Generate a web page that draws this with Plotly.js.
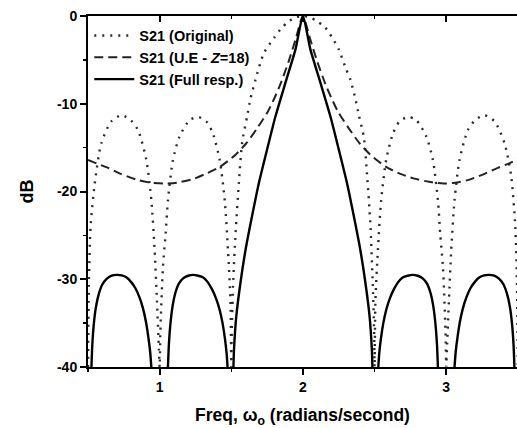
<!DOCTYPE html>
<html><head><meta charset="utf-8">
<script src="https://cdn.plot.ly/plotly-3.0.1.min.js"></script>
<style>html,body{margin:0;padding:0;background:#fff}#chart{width:517px;height:428px}</style>
</head><body><div id="chart"></div>
<script>
// S21 (Original) - dotted
const origX = [0.5,0.507,0.518,0.547,0.593,0.663,0.735,0.80,0.849,0.907,0.942,0.965,0.981,0.995,1.0,
  1.005,1.023,1.042,1.058,1.093,1.14,1.21,1.27,1.33,1.372,1.419,1.454,1.477,1.494,1.5,
  1.503,1.514,1.53,1.553,1.576,1.611,1.633,1.67,1.728,1.798,1.85,1.902,1.95,2.0,2.05,2.098,2.15,2.202,2.25,2.30,2.33,2.367,2.39,2.425,2.447,2.47,2.486,2.497,2.5,
  2.506,2.523,2.546,2.581,2.628,2.67,2.73,2.79,2.86,2.907,2.942,2.958,2.977,2.995,3.0,
  3.005,3.019,3.035,3.058,3.093,3.151,3.2,3.265,3.337,3.407,3.453,3.482,3.493,3.5];
const origY = [-40,-30,-24,-19.1,-14.5,-12.0,-11.3,-11.9,-13.0,-16.4,-21.0,-26.7,-32.4,-38,-40,
  -36,-28.6,-24.8,-21,-16.4,-13.7,-11.85,-11.5,-12.1,-13.4,-16.4,-21,-26.7,-32.4,-40,
  -36,-30,-24.7,-19,-14.4,-11.4,-9.5,-7.2,-4.2,-2.5,-1.4,-0.6,-0.15,0,-0.15,-0.6,-1.2,-2.4,-3.8,-6.0,-7.2,-9.5,-11.3,-13.8,-18,-23.5,-30,-36,-40,
  -32.4,-26.7,-21,-16.4,-13.4,-12.1,-11.5,-11.85,-13.7,-16.4,-21,-24.8,-28.6,-36,-40,
  -38,-32.4,-26.7,-21,-16.4,-13,-11.9,-11.3,-12,-14.5,-18.2,-24,-30,-40];

// S21 (U.E - Z=18) - dashed
const ueX = [0.5,0.56,0.64,0.73,0.85,0.94,1.03,1.12,1.23,1.32,1.42,1.53,1.605,1.68,1.755,1.80,1.842,1.90,1.95,2.0,
  2.05,2.10,2.158,2.20,2.245,2.32,2.395,2.47,2.58,2.68,2.77,2.88,2.98,3.06,3.15,3.25,3.36,3.44,3.5];
const ueY = [-16.4,-16.8,-17.3,-18.0,-18.7,-19.0,-19.1,-19.0,-18.6,-18.0,-17.2,-15.8,-14.5,-12.8,-10.9,-9.4,-7.8,-5.2,-2.6,0,
  -2.6,-5.2,-7.8,-9.4,-10.9,-12.8,-14.5,-15.8,-17.2,-18.0,-18.5,-18.9,-19.1,-19.0,-18.7,-18.1,-17.3,-16.8,-16.3];

// S21 (Full resp.) - solid, lobes separated by gaps
const fullX = [0.524,0.530,0.540,0.555,0.575,0.60,0.63,0.665,0.70,0.735,0.77,0.80,0.83,0.86,0.885,0.905,0.922,0.934,0.942,null,
  1.058,1.064,1.074,1.089,1.109,1.134,1.164,1.199,1.234,1.269,1.304,1.334,1.364,1.394,1.419,1.439,1.456,1.467,1.474,null,
  1.515,1.519,1.535,1.564,1.600,1.645,1.693,1.750,1.809,1.878,1.948,2.000,2.052,2.122,2.191,2.250,2.307,2.355,2.400,2.436,2.465,2.481,2.485,null,
  2.526,2.533,2.544,2.561,2.581,2.606,2.636,2.666,2.696,2.731,2.766,2.801,2.836,2.866,2.891,2.911,2.926,2.936,2.942,null,
  3.058,3.066,3.078,3.095,3.115,3.140,3.170,3.200,3.230,3.265,3.300,3.335,3.370,3.400,3.425,3.445,3.460,3.470,3.476];
const fullY = [-40,-37.5,-35.2,-33.2,-31.7,-30.6,-29.95,-29.6,-29.5,-29.55,-29.8,-30.3,-31.0,-32.1,-33.4,-34.9,-36.7,-38.3,-40,null,
  -40,-37.6,-35.3,-33.2,-31.6,-30.5,-29.9,-29.6,-29.5,-29.6,-29.8,-30.3,-31.1,-32.2,-33.5,-35.0,-36.8,-38.4,-40,null,
  -40,-38,-34.2,-30.4,-26.6,-22.8,-19,-15.2,-11.4,-7.6,-3.8,0,-3.8,-7.6,-11.4,-15.2,-19,-22.8,-26.6,-30.4,-34.2,-38,-40,null,
  -40,-38.4,-36.8,-35.0,-33.5,-32.2,-31.1,-30.3,-29.8,-29.6,-29.5,-29.6,-29.9,-30.5,-31.6,-33.2,-35.3,-37.6,-40,null,
  -40,-38.3,-36.7,-34.9,-33.4,-32.1,-31.0,-30.3,-29.8,-29.55,-29.5,-29.6,-29.95,-30.6,-31.7,-33.2,-35.2,-37.5,-40];

const xTickVals = [1,2,3];
const xTickText = ['1','2','3'];
const yTickVals = [0,-10,-20,-30,-40];
const yTickText = ['0','-10','-20','-30','-40'];
const legendNames = ['S21 (Original)','S21 (U.E - <i>Z</i>=18)','S21 (Full resp.)'];

const FONT = 'Liberation Sans, Arial, sans-serif';

const traces = [
  {x: origX, y: origY, name: legendNames[0], mode: 'lines', type: 'scatter',
   line: {color: '#2a2a2a', width: 2.4, dash: '2px,6px', shape: 'spline', smoothing: 0.7}},
  {x: ueX, y: ueY, name: legendNames[1], mode: 'lines', type: 'scatter',
   line: {color: '#222', width: 2, dash: '9px,5px', shape: 'spline', smoothing: 0.6}},
  {x: fullX, y: fullY, name: legendNames[2], mode: 'lines', type: 'scatter', connectgaps: false,
   line: {color: '#000', width: 2.4, shape: 'spline', smoothing: 0.6}},
  {x: [], y: [], xaxis: 'x2', showlegend: false, hoverinfo: 'skip', type: 'scatter', mode: 'lines'}
];

const layout = {
  width: 517, height: 428,
  margin: {l: 88, r: 0, t: 16, b: 61},
  paper_bgcolor: '#fff', plot_bgcolor: '#fff',
  showlegend: true,
  font: {family: FONT, color: '#000'},
  legend: {x: 0.003, y: 0.99, xanchor: 'left', yanchor: 'top', bgcolor: 'rgba(0,0,0,0)',
           font: {family: FONT, size: 14.5, weight: 'bold', color: '#000'}, itemwidth: 40, tracegroupgap: 0},
  xaxis: {range: [0.5, 3.494], showgrid: false, zeroline: false, showline: true, linecolor: '#000', linewidth: 2,
          tickmode: 'array', tickvals: xTickVals, ticktext: xTickText, ticks: 'outside', ticklen: 6, tickwidth: 2, tickcolor: '#000',
          minor: {tickvals: [0.5,1.5,2.5], ticks: 'outside', ticklen: 3, tickwidth: 1.5, tickcolor: '#000'},
          tickfont: {family: FONT, size: 14, weight: 'bold'},
          title: {text: 'Freq, ω<sub>o</sub> (radians/second)', font: {family: FONT, size: 17.5, weight: 'bold'}, standoff: 16}},
  xaxis2: {overlaying: 'x', side: 'top', anchor: 'y', range: [0.5, 3.494], showgrid: false, zeroline: false,
           showline: true, linecolor: '#000', linewidth: 2, showticklabels: false,
           tickmode: 'array', tickvals: xTickVals, ticks: 'inside', ticklen: 6, tickwidth: 2, tickcolor: '#000',
           minor: {tickvals: [1.5,2.5], ticks: 'inside', ticklen: 3, tickwidth: 1.5, tickcolor: '#000'}},
  yaxis: {range: [-40, 0], showgrid: false, zeroline: false, showline: true, linecolor: '#000', linewidth: 2,
          tickmode: 'array', tickvals: yTickVals, ticktext: yTickText, ticks: 'outside', ticklen: 6, tickwidth: 2, tickcolor: '#000',
          minor: {tickvals: [-5,-15,-25,-35], ticks: 'outside', ticklen: 3, tickwidth: 1.5, tickcolor: '#000'},
          tickfont: {family: FONT, size: 14, weight: 'bold'},
          title: {text: 'dB', font: {family: FONT, size: 18, weight: 'bold'}, standoff: 19}}
};

Plotly.newPlot('chart', traces, layout, {displayModeBar: false, staticPlot: true});
</script>
</body></html>
